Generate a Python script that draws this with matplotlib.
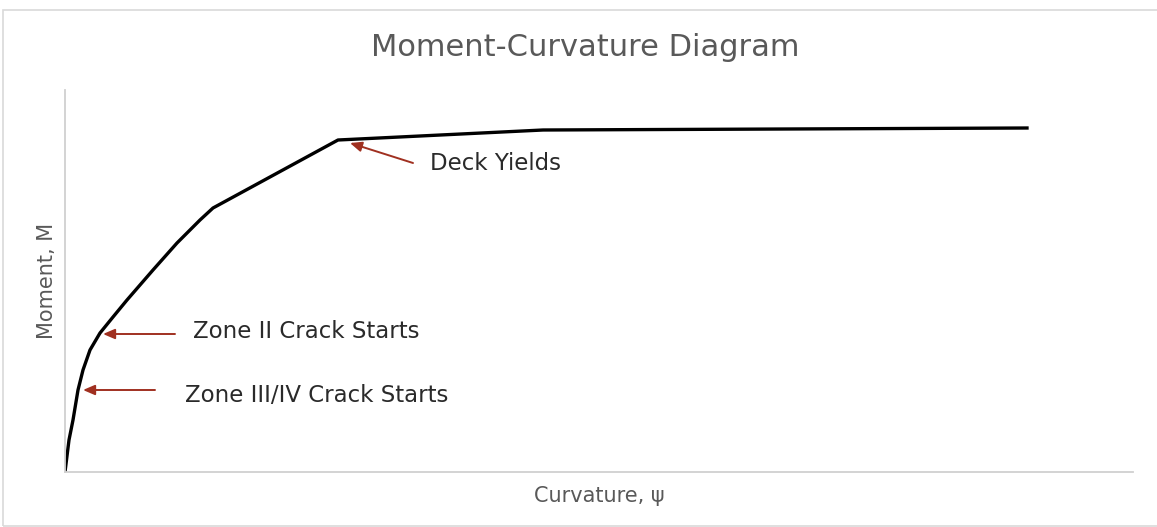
import matplotlib
matplotlib.use("Agg")
import matplotlib.pyplot as plt
from matplotlib.patches import Rectangle

# Data (arbitrary units)
curvature = [0, 4, 8, 13, 18, 25, 35, 48, 62, 88, 112, 135, 148, 273, 478, 962]
moment = [0, 32, 52, 82, 102, 122, 139, 155, 172, 202, 229, 252, 264, 332, 342, 344]

labels = ["Deck Yields", "Zone II Crack Starts", "Zone III/IV Crack Starts"]
arrow_tips = [(285, 329), (38, 138), (18, 82)]
arrow_tails = [(348, 309), (110, 138), (90, 82)]
text_pos = [(365, 309), (128, 141), (120, 77)]

W, H = 1157, 527
fig = plt.figure(figsize=(W / 100, H / 100), dpi=100)
fig.patches.append(Rectangle((3 / W, 1 / H), 1.2, (526 - 10) / H, transform=fig.transFigure,
                             fill=False, edgecolor="#d9d9d9", linewidth=1.2))

ax = fig.add_axes([65 / W, (527 - 472) / H, 1068 / W, 382 / H])
ax.plot(curvature, moment, color="black", linewidth=2.4, solid_joinstyle="round")
ax.set_xlim(0, 1068)
ax.set_ylim(0, 382)
ax.set_xticks([])
ax.set_yticks([])
for s in ["top", "right"]:
    ax.spines[s].set_visible(False)
for s in ["left", "bottom"]:
    ax.spines[s].set_color("#d0d0d0")
    ax.spines[s].set_linewidth(1.3)

red = "#a03020"
for lab, tip, tail, tp in zip(labels, arrow_tips, arrow_tails, text_pos):
    ax.annotate("", xy=tip, xytext=tail,
                arrowprops=dict(arrowstyle="-|>,head_length=0.7,head_width=0.3",
                                color=red, linewidth=1.4, shrinkA=0, shrinkB=0))
    ax.text(tp[0], tp[1], lab, fontsize=16.5, color="#2a2a2a", va="center", ha="left",
            family="DejaVu Sans")

fig.text(585 / W, 1 - 47 / H, "Moment-Curvature Diagram", fontsize=22, color="#595959",
         ha="center", va="center")
ax.set_xlabel("Curvature, ψ", fontsize=15, color="#595959", labelpad=10)
ax.set_ylabel("Moment, M", fontsize=15, color="#595959", labelpad=6)

fig.savefig("out.png", dpi=100)
